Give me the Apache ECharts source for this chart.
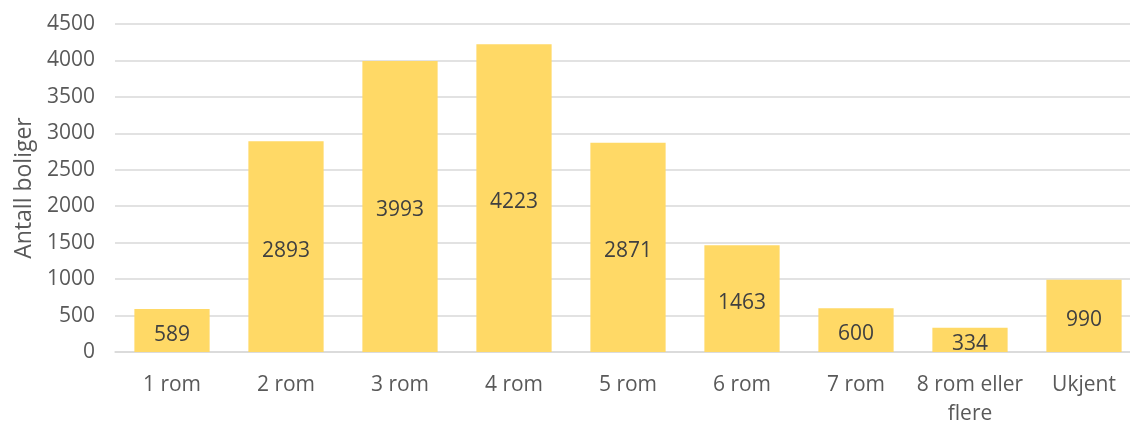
<!DOCTYPE html>
<html>
<head>
<meta charset="utf-8">
<script src="https://cdn.jsdelivr.net/npm/echarts@6/dist/echarts.min.js"></script>
<style>
html,body{margin:0;padding:0;background:#fff;}
#c{width:1130px;height:421px;}
</style>
</head>
<body>
<div id="c"></div>
<script>
const categories = ['1 rom', '2 rom', '3 rom', '4 rom', '5 rom', '6 rom', '7 rom', '8 rom eller\nflere', 'Ukjent'];
const values = [589, 2893, 3993, 4223, 2871, 1463, 600, 334, 990];
const yTicks = { min: 0, max: 4500, interval: 500 };
const yAxisName = 'Antall boliger';

const FONT = '"Open Sans", "Noto Sans", sans-serif';
const chart = echarts.init(document.getElementById('c'), null, { renderer: 'canvas' });
chart.setOption({
  animation: false,
  backgroundColor: '#ffffff',
  grid: { left: 115, top: 24, width: 1026, height: 328, containLabel: false, outerBoundsMode: 'none' },
  xAxis: {
    type: 'category',
    data: categories,
    axisLine: { show: true, lineStyle: { color: '#D9D9D9', width: 1.5 } },
    axisTick: { show: false },
    axisLabel: { color: '#595959', fontFamily: FONT, fontSize: 21, margin: 19, lineHeight: 29, interval: 0 }
  },
  yAxis: {
    type: 'value',
    min: yTicks.min, max: yTicks.max, interval: yTicks.interval,
    name: yAxisName,
    nameLocation: 'middle',
    nameGap: 79,
    nameTextStyle: { color: '#595959', fontFamily: FONT, fontSize: 23 },
    axisLine: { show: false },
    axisTick: { show: false },
    axisLabel: { color: '#595959', fontFamily: FONT, fontSize: 21, margin: 20, formatter: v => String(v) },
    splitLine: { lineStyle: { color: '#D9D9D9', width: 1.5 } }
  },
  series: [{
    type: 'bar',
    data: values,
    barCategoryGap: '34%',
    itemStyle: { color: '#FFD966' },
    label: { show: true, position: 'inside', offset: [0, 4], color: '#404040', fontFamily: FONT, fontSize: 21 }
  }]
});
</script>
</body>
</html>
